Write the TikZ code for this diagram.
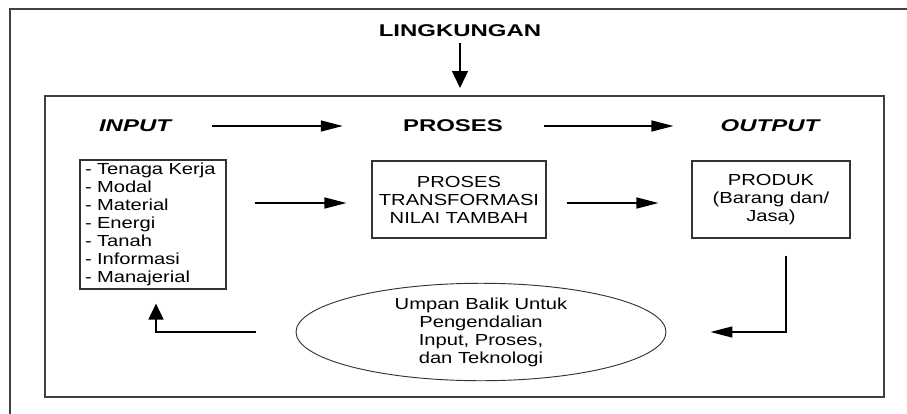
\documentclass[tikz,border=0pt]{standalone}
\usepackage{fontspec}
\setmainfont{Liberation Sans}[FakeStretch=1.26]
\newfontfamily\hdrfont{Liberation Sans}[FakeStretch=1.41]
\usetikzlibrary{arrows.meta,shapes.geometric,calc}
\begin{document}
\begin{tikzpicture}[x=0.75pt,y=-0.75pt,
  frame/.style={draw=black!75,line width=1pt},
  box/.style={draw=black!80,line width=0.8pt,inner sep=0pt,font=\fontsize{12pt}{13.5pt}\selectfont},
  hdr/.style={font=\hdrfont\bfseries\fontsize{12.75pt}{14pt}\selectfont,inner sep=0pt},
  arr/.style={line width=1.1pt,-{Triangle[length=16.5pt,width=8.25pt]}},
  arrv/.style={line width=1.1pt,-{Triangle[length=12.75pt,width=12pt]}},
  arru/.style={line width=1.1pt,-{Triangle[length=12pt,width=11.25pt]}}]
\useasboundingbox (0,0) rectangle (907,414);
\clip (0,0) rectangle (907,414);
% outer frame (partly outside the picture)
\draw[frame] (10,430) -- (10,9) -- (920,9);
% inner frame
\draw[frame] (45,96) rectangle (884,397);
% environment
\node[hdr] (lingk) at (460,31) {LINGKUNGAN};
\coordinate (lk) at (460,88);
\draw[arrv] ($(lingk.south)+(0,6)$) -- (lk);
% headers
\node[hdr] (hin) at (135,126) {\itshape INPUT};
\node[hdr] (hpr) at (453,126) {PROSES};
\node[hdr] (hout) at (770,126) {\itshape OUTPUT};
\draw[arr] ($(hin.east)+(41,0)$) -- ($(hpr.west)+(-60,0)$);
\draw[arr] ($(hpr.east)+(41,0)$) -- ($(hout.west)+(-47,0)$);
% boxes
\node[box,minimum width=109.5pt,minimum height=96.75pt,text width=102pt,align=left,inner xsep=3.75pt] (inbox) at (153,224.5)
  {- Tenaga Kerja\\- Modal\\- Material\\- Energi\\- Tanah\\- Informasi\\- Manajerial};
\node[box,minimum width=130.5pt,minimum height=57.75pt,align=center] (proc) at (459,199.5)
  {PROSES\\TRANSFORMASI\\NILAI TAMBAH};
\node[box,minimum width=118.5pt,minimum height=57.75pt,align=center] (prod) at (771,199.5)
  {PRODUK\\(Barang dan/\\Jasa)};
\draw[arr] ($(inbox.east |- proc.west)+(28,3.5)$) -- ($(proc.west)+(-25,3.5)$);
\draw[arr] ($(proc.east)+(20,3.5)$) -- ($(prod.west)+(-33,3.5)$);
% feedback
\node[box,ellipse,draw=black!80,line width=0.7pt,minimum width=277.5pt,minimum height=64.5pt,align=center] (fb) at (481,332)
  {Umpan Balik Untuk\\Pengendalian\\Input, Proses,\\dan Teknologi};
\draw[arr] ($(prod.south)+(15,17)$) |- ($(fb.east)+(44,0)$);
\draw[arru] ($(fb.west)+(-40,0)$) -| ($(inbox.south)+(3,14)$);
\end{tikzpicture}
\end{document}
